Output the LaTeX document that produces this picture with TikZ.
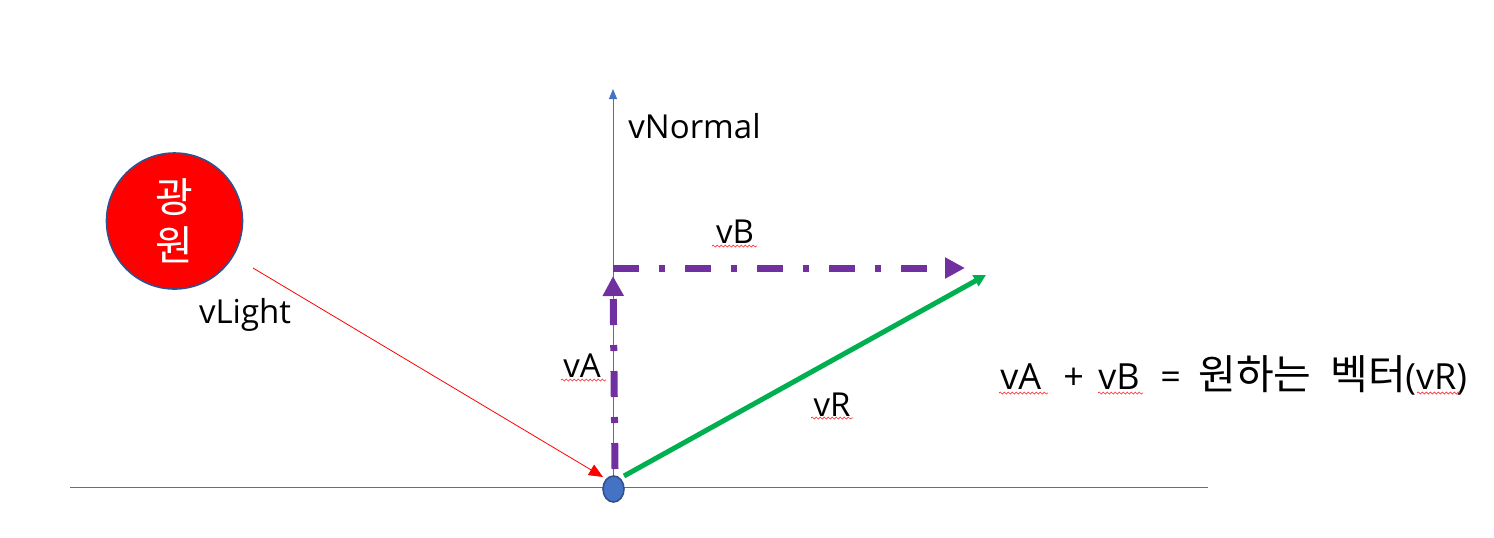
\documentclass[tikz,border=0pt]{standalone}
\usepackage{fontspec}
\setmainfont{Open Sans}
\newfontfamily\kr{Noto Sans CJK KR}
\usetikzlibrary{arrows.meta,decorations.pathmorphing,shapes.geometric}
\definecolor{cblue}{HTML}{4472C4}
\definecolor{cdark}{HTML}{2F528F}
\definecolor{cpurple}{HTML}{7030A0}
\definecolor{cgreen}{HTML}{00B050}
\newcommand{\krbig}{\kr\fontsize{20.5}{24}\selectfont}
\newcommand{\seg}[2]{\makebox[#1pt][l]{#2}}
\tikzset{
  lbl/.style={font=\fontsize{16.5}{20}\selectfont, inner sep=0pt, text=black},
  purplevec/.style={draw=cpurple, line width=3.5pt, dash pattern=on 13pt off 10pt on 3pt off 10pt,
    -{Triangle[length=10pt,width=10pt,fill=cpurple]}},
  squiggle/.style={draw=red!80, line width=0.35pt, decorate,
    decoration={snake,segment length=2pt,amplitude=0.5pt}},
}
\begin{document}
\begin{tikzpicture}[x=0.5pt,y=-0.5pt]
\useasboundingbox (0,0) rectangle (1494,537);
% surface
\coordinate (sl) at (70,487);
\coordinate (sr) at (1208,487);
\draw[cblue, line width=0.5pt] (sl) -- (sr);
% normal
\coordinate (nTop) at (613,89);
\coordinate (nBot) at (613,487);
\draw[cblue, line width=0.5pt, -{Triangle[length=5pt,width=4pt]}] (nBot) -- (nTop);
\node[lbl, anchor=west] (lNormal) at (628,126) {vNormal};
% light source
\node[circle, draw=cdark, line width=0.8pt, fill=red, minimum size=68pt, inner sep=0pt,
  text=white, align=center, font=\kr\fontsize{20.5}{24}\selectfont] (light) at (174.5,221) {광\\원};
% vLight
\coordinate (lStart) at (253,268);
\coordinate (lEnd) at (603,477);
\draw[red, line width=0.4pt, -{Triangle[length=7pt,width=6pt]}] (lStart) -- (lEnd);
\node[lbl] (lLight) at (245,315) {vLight};
% vA
\coordinate (aStart) at (615,469);
\coordinate (aEnd) at (613,276);
\draw[purplevec] (aStart) -- (aEnd);
\node[lbl] (lA) at (582,366) {vA};
% vB
\coordinate (bStart) at (613,268);
\coordinate (bEnd) at (965,268);
\draw[purplevec] (bStart) -- (bEnd);
\node[lbl] (lB) at (735,232) {vB};
% vR
\coordinate (rStart) at (624,476);
\coordinate (rEnd) at (986,275);
\draw[cgreen, line width=2.5pt, -{Triangle[length=6pt,width=6pt]}] (rStart) -- (rEnd);
\node[lbl] (lR) at (832,405) {vR};
% origin point
\node[ellipse, draw=cdark, line width=0.8pt, fill=cblue, minimum width=10.5pt, minimum height=13pt, inner sep=0pt] (origin) at (613.5,489) {};
% equation
\node[lbl, font=\fontsize{18}{22}\selectfont, anchor=base west] (eq) at (1000,389)
  {\seg{31.5}{vA}\seg{17.5}{+}\seg{31}{vB}\seg{19}{=}\seg{66}{\krbig 원하는}\seg{37.5}{\krbig 벡터}(vR)};
% spell-check squiggles
\coordinate (sqA1) at (561,380); \coordinate (sqA2) at (606,380);
\coordinate (sqB1) at (712,246); \coordinate (sqB2) at (757,246);
\coordinate (sqR1) at (811,418); \coordinate (sqR2) at (853,418);
\coordinate (sqE1) at (999,393); \coordinate (sqE2) at (1048,393);
\coordinate (sqE3) at (1098,393); \coordinate (sqE4) at (1143,393);
\coordinate (sqE5) at (1417,393); \coordinate (sqE6) at (1460,393);
\draw[squiggle] (sqA1) -- (sqA2);
\draw[squiggle] (sqB1) -- (sqB2);
\draw[squiggle] (sqR1) -- (sqR2);
\draw[squiggle] (sqE1) -- (sqE2);
\draw[squiggle] (sqE3) -- (sqE4);
\draw[squiggle] (sqE5) -- (sqE6);
\end{tikzpicture}
\end{document}
